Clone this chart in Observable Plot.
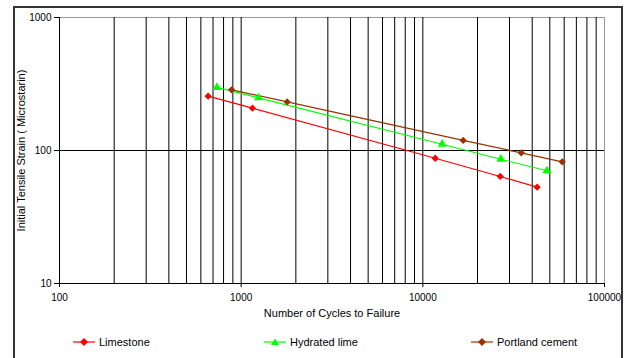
<!DOCTYPE html>
<html>
<head>
<meta charset="utf-8">
<script src="https://cdn.jsdelivr.net/npm/d3@7"></script>
<script src="https://cdn.jsdelivr.net/npm/@observablehq/plot@0.6"></script>
<style>
  html, body { margin: 0; padding: 0; background: #fff; }
  #wrap { position: relative; width: 624px; height: 358px; overflow: hidden; font-family: "Liberation Sans", Arial, sans-serif; }
  #frame { position: absolute; left: 13px; top: 6px; width: 610px; height: 370px; border: 2px solid #333; box-sizing: border-box; pointer-events: none; }
  #chart { position: absolute; left: 0; top: 0; }
  .leg { position: absolute; top: 334px; height: 16px; display: flex; align-items: center; font-size: 11px; color: #000; white-space: nowrap; }
  .leg svg { margin-right: 3px; }
</style>
</head>
<body>
<div id="wrap">
  <div id="chart"></div>
  <div id="legend"></div>
  <div id="frame"></div>
</div>
<script>
const seriesNames = ["Limestone", "Hydrated lime", "Portland cement"];
const seriesColors = ["#ff0000", "#00ff00", "#993300"];
const seriesSymbols = ["diamond2", "triangle", "diamond2"];

const cyclesLimestone = [658, 1154, 11700, 26670, 42600];
const strainLimestone = [256, 208, 87.5, 63.8, 53];
const cyclesHydrated = [735, 1246, 12780, 26900, 48200];
const strainHydrated = [298, 249, 111.5, 86, 70.4];
const cyclesPortland = [885, 1792, 16680, 34800, 58500];
const strainPortland = [286, 232, 119, 96, 82.2];

const xTicks = [100, 1000, 10000, 100000];
const yTicks = [10, 100, 1000];
const xGrid = [200, 300, 400, 500, 600, 700, 800, 900, 1000, 2000, 3000, 4000, 5000, 6000, 7000, 8000, 9000, 10000, 20000, 30000, 40000, 50000, 60000, 70000, 80000, 90000];
const yGrid = [100];

const cycles = [cyclesLimestone, cyclesHydrated, cyclesPortland];
const strains = [strainLimestone, strainHydrated, strainPortland];
const data = [];
seriesNames.forEach((s, i) => {
  cycles[i].forEach((c, j) => data.push({series: s, cycles: c, strain: strains[i][j]}));
});

const chart = Plot.plot({
  width: 624,
  height: 326,
  marginLeft: 59,
  marginRight: 20,
  marginTop: 17,
  marginBottom: 43,
  style: {fontFamily: "'Liberation Sans', Arial, sans-serif", fontSize: "10px", color: "#000", background: "transparent", overflow: "visible"},
  x: {type: "log", domain: [100, 100000]},
  y: {type: "log", domain: [10, 1000]},
  color: {domain: seriesNames, range: seriesColors},
  symbol: {domain: seriesNames, range: seriesSymbols},
  marks: [
    Plot.frame({stroke: "#999", strokeWidth: 1}),
    Plot.ruleX(xGrid, {stroke: "#000", strokeWidth: 1}),
    Plot.ruleY(yGrid, {stroke: "#000", strokeWidth: 1}),
    Plot.ruleX([100], {stroke: "#000"}),
    Plot.ruleY([10], {stroke: "#000"}),
    Plot.axisX({ticks: xTicks, tickFormat: d => String(d), tickSize: 4, tickPadding: 6, fontSize: 10,
      label: "Number of Cycles to Failure", labelAnchor: "center", labelArrow: "none", labelOffset: 33}),
    Plot.axisY({ticks: yTicks, tickFormat: d => String(d), tickSize: 5, tickPadding: 3, fontSize: 10,
      label: "Initial Tensile Strain ( Microstarin)", labelAnchor: "center", labelArrow: "none", labelOffset: 42}),
    Plot.line(data, {x: "cycles", y: "strain", z: "series", stroke: "series", strokeWidth: 1.2}),
    Plot.dot(data, {x: "cycles", y: "strain", fill: "series", symbol: "series", r: 3.3, stroke: null})
  ]
});
document.getElementById("chart").appendChild(chart);

chart.querySelectorAll("g[aria-label='x-axis label'] text, g[aria-label='y-axis label'] text").forEach(t => t.setAttribute("font-size", "11"));

// HTML legend
const legPos = [73, 264, 471];
const legend = document.getElementById("legend");
seriesNames.forEach((s, i) => {
  const d = document.createElement("div");
  d.className = "leg";
  d.style.left = legPos[i] + "px";
  const sym = seriesSymbols[i] === "triangle"
    ? `<path d="M11,4.5 L15,11 L7,11 Z" fill="${seriesColors[i]}"/>`
    : `<path d="M11,4 L15,8 L11,12 L7,8 Z" fill="${seriesColors[i]}"/>`;
  d.innerHTML = `<svg width="23" height="16"><line x1="0" x2="22" y1="8" y2="8" stroke="${seriesColors[i]}" stroke-width="1.2"/>${sym}</svg><span>${s}</span>`;
  legend.appendChild(d);
});
</script>
</body>
</html>
